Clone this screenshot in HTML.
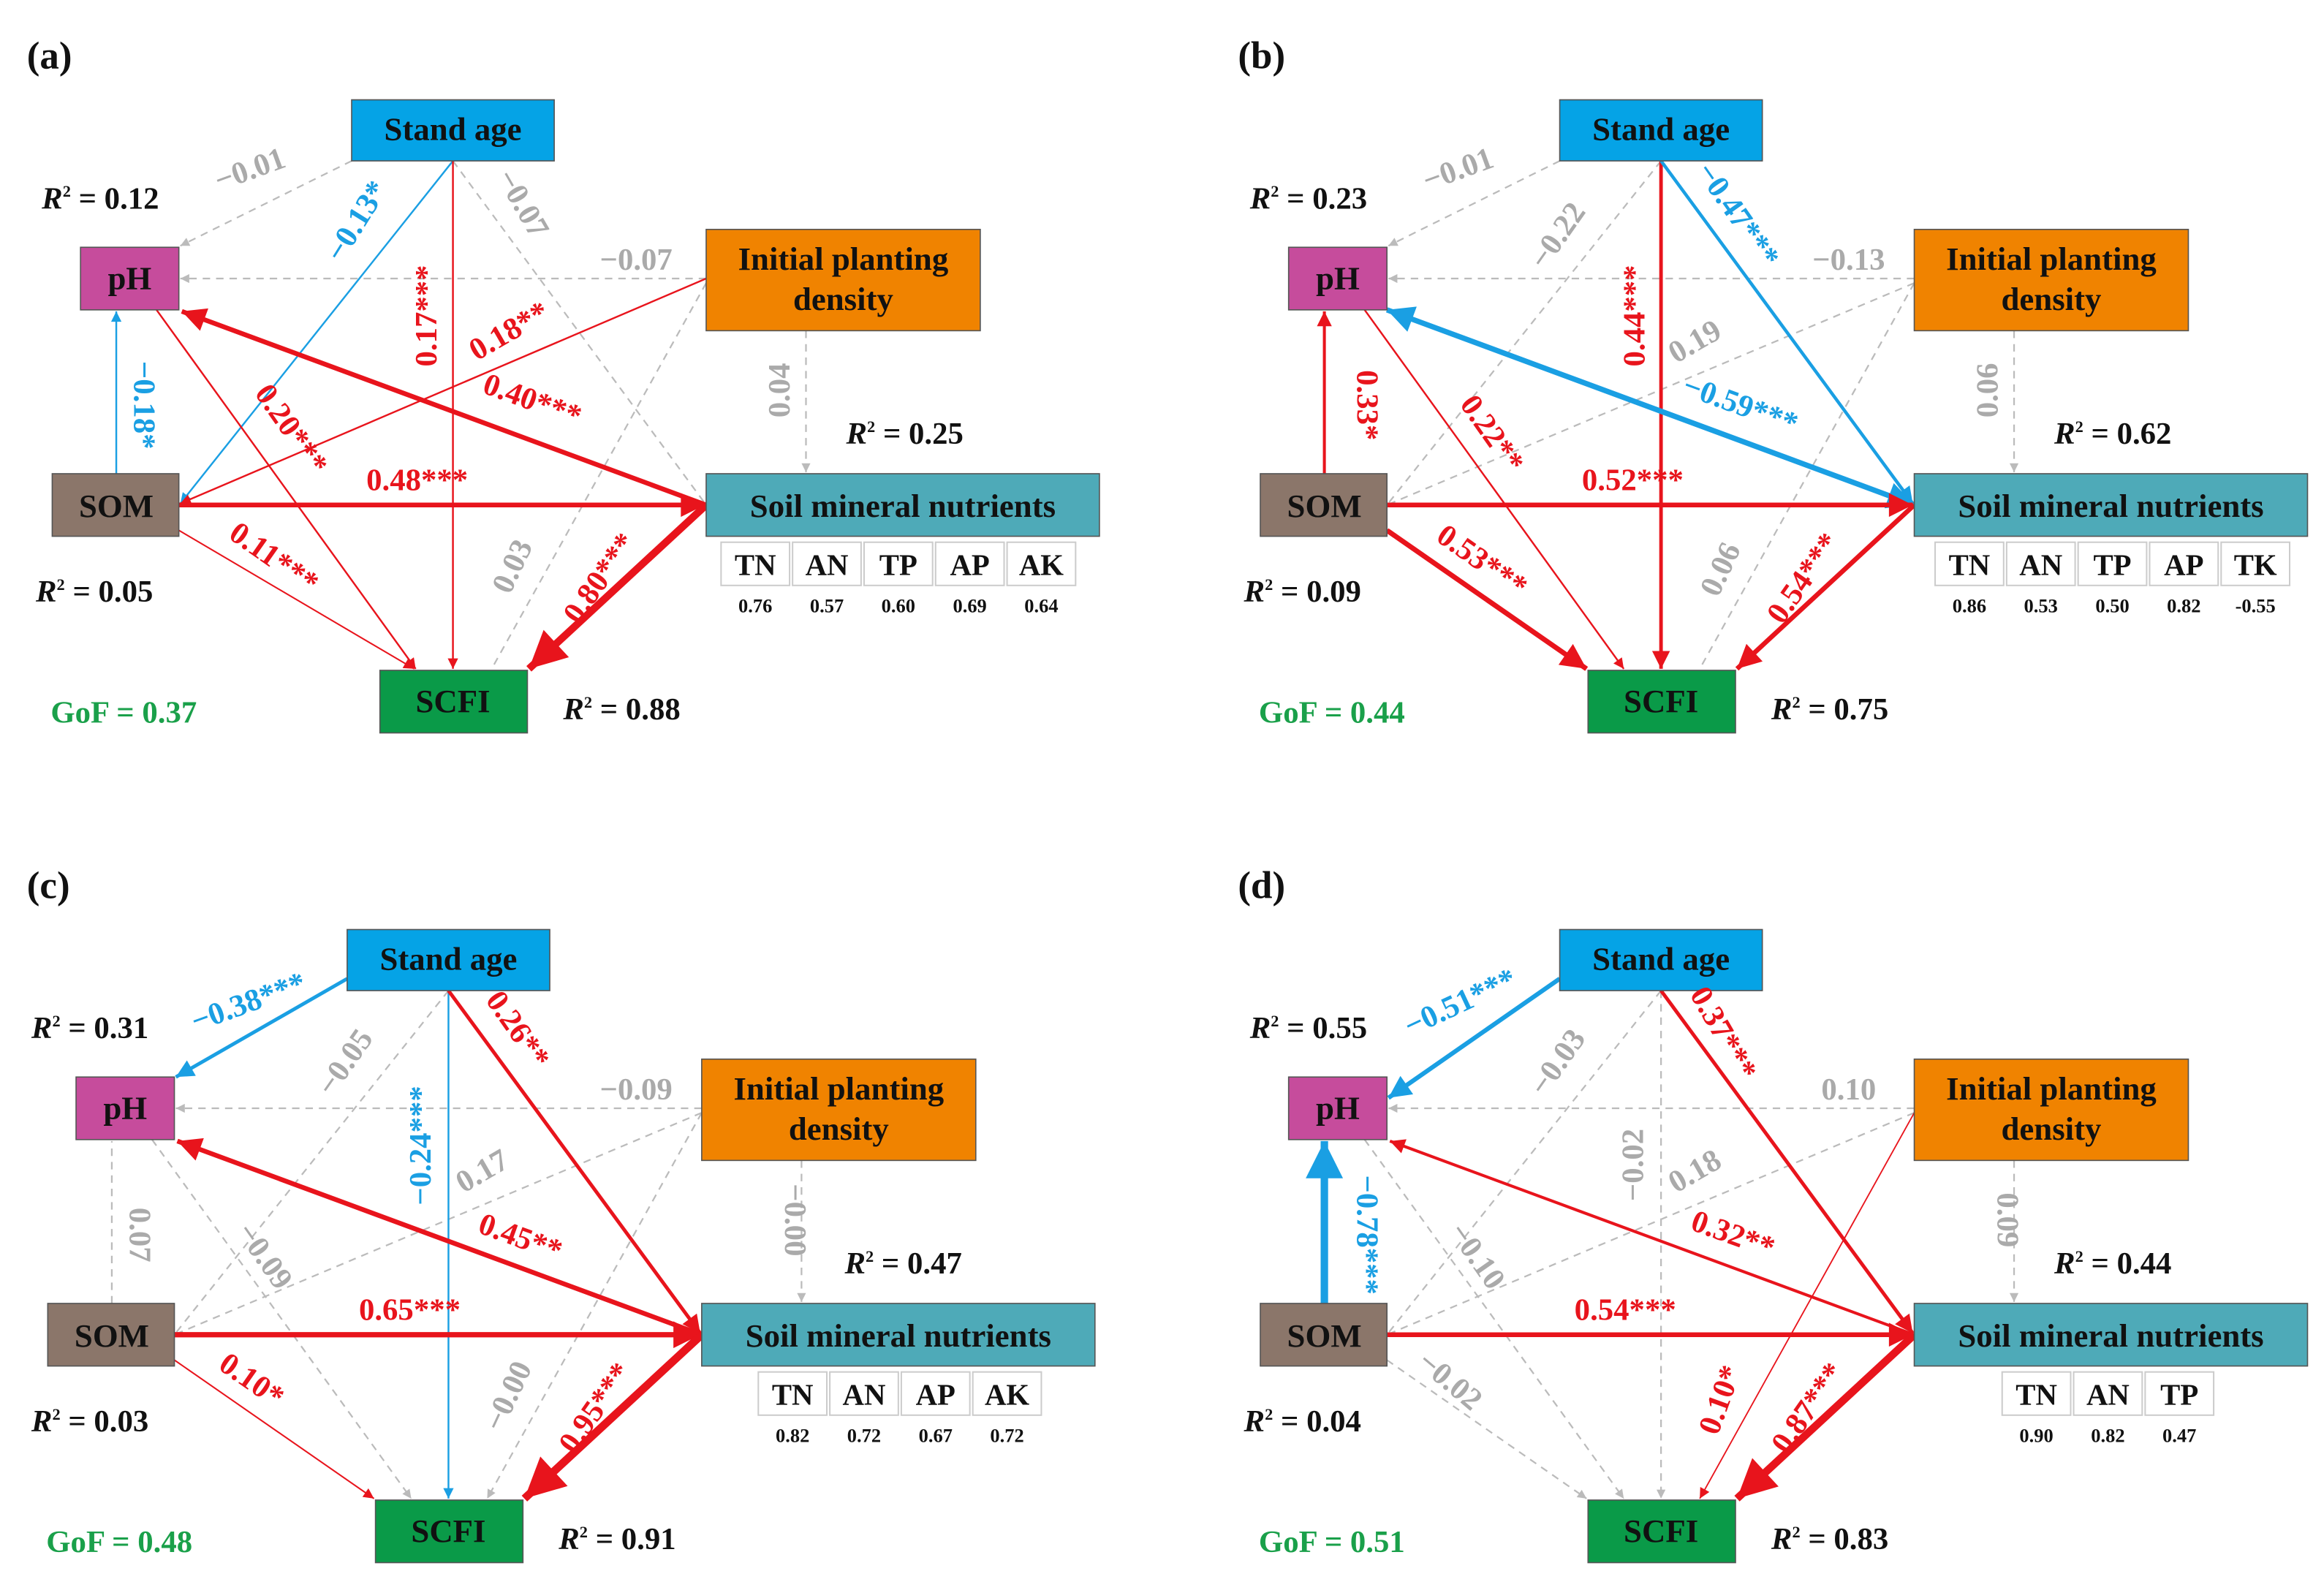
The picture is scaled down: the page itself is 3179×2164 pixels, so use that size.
<!DOCTYPE html>
<html><head><meta charset="utf-8"><style>
html,body{margin:0;padding:0;background:#fff}
svg{display:block}
text{font-family:"Liberation Serif",serif;font-weight:bold}
.bx{font-size:22px;fill:#111;text-anchor:middle}
.lr{fill:#e8141c;font-size:21px;text-anchor:middle}
.lb{fill:#1a9fe3;font-size:21px;text-anchor:middle}
.lg{fill:#aaa;font-size:21px;text-anchor:middle}
.r2{font-size:21px;fill:#111}
.gof{font-size:21px;fill:#1aa04a}
.sb{font-size:20px;fill:#111;text-anchor:middle}
.sv{font-size:13px;fill:#111;text-anchor:middle}
.pl{font-size:26px;fill:#111}
.r{stroke:#e8141c;fill:none}
.b{stroke:#1a9fe3;fill:none}
.g{stroke:#bbb;stroke-width:1.1;stroke-dasharray:5,4;fill:none}
</style></head><body>
<svg width="3179" height="2164" viewBox="0 0 1560 1062" xmlns="http://www.w3.org/2000/svg">
<defs>
<marker id="mr" viewBox="0 0 10 10" refX="10" refY="5" markerWidth="6" markerHeight="5" orient="auto-start-reverse" markerUnits="strokeWidth"><path d="M0,0L10,5L0,10z" fill="#e8141c"/></marker>
<marker id="mb" viewBox="0 0 10 10" refX="10" refY="5" markerWidth="6" markerHeight="5" orient="auto-start-reverse" markerUnits="strokeWidth"><path d="M0,0L10,5L0,10z" fill="#1a9fe3"/></marker>
<marker id="mg" viewBox="0 0 10 10" refX="10" refY="5" markerWidth="7" markerHeight="6" orient="auto" markerUnits="userSpaceOnUse"><path d="M0,0L10,5L0,10z" fill="#bbb"/></marker>
<marker id="mrs" viewBox="0 0 10 10" refX="10" refY="5" markerWidth="8" markerHeight="7" orient="auto" markerUnits="userSpaceOnUse"><path d="M0,0L10,5L0,10z" fill="#e8141c"/></marker>
<marker id="mbs" viewBox="0 0 10 10" refX="10" refY="5" markerWidth="8" markerHeight="7" orient="auto" markerUnits="userSpaceOnUse"><path d="M0,0L10,5L0,10z" fill="#1a9fe3"/></marker>
<g id="nodes">
<rect x="236" y="67" width="136" height="41" fill="#05a3e6" stroke="#555" stroke-width="0.8"/>
<text class="bx" x="304" y="94">Stand age</text>
<rect x="54" y="166" width="66" height="42" fill="#c64c9c" stroke="#555" stroke-width="0.8"/>
<text class="bx" x="87" y="194">pH</text>
<rect x="474" y="154" width="184" height="68" fill="#f08300" stroke="#555" stroke-width="0.8"/>
<text class="bx" x="566" y="181">Initial planting</text>
<text class="bx" x="566" y="208">density</text>
<rect x="35" y="318" width="85" height="42" fill="#8b766a" stroke="#555" stroke-width="0.8"/>
<text class="bx" x="78" y="347">SOM</text>
<rect x="474" y="318" width="264" height="42" fill="#4eaab8" stroke="#555" stroke-width="0.8"/>
<text class="bx" x="606" y="347">Soil mineral nutrients</text>
<rect x="255" y="450" width="99" height="42" fill="#0a9a48" stroke="#555" stroke-width="0.8"/>
<text class="bx" x="304" y="478">SCFI</text>
</g>
</defs>

<!-- Panel A -->
<g>
<text class="pl" x="18" y="46">(a)</text>
<line class="g" x1="236" y1="108" x2="121" y2="165" marker-end="url(#mg)"/>
<line class="g" x1="304" y1="108" x2="474" y2="339"/>
<line class="g" x1="474" y1="187" x2="121" y2="187" marker-end="url(#mg)"/>
<line class="g" x1="541" y1="222" x2="541" y2="317" marker-end="url(#mg)"/>
<line class="g" x1="474" y1="190" x2="330" y2="449"/>
<line class="b" stroke-width="1.2" x1="304" y1="108" x2="121" y2="338" marker-end="url(#mbs)"/>
<line class="r" stroke-width="1.2" x1="304" y1="108" x2="304" y2="449" marker-end="url(#mrs)"/>
<line class="r" stroke-width="1.2" x1="474" y1="187" x2="121" y2="338" marker-end="url(#mrs)"/>
<line class="r" stroke-width="3.2" x1="474" y1="339" x2="122" y2="209" marker-end="url(#mr)"/>
<line class="b" stroke-width="1.2" x1="78" y1="318" x2="78" y2="209" marker-end="url(#mbs)"/>
<line class="r" stroke-width="1.2" x1="105" y1="208" x2="279" y2="449" marker-end="url(#mrs)"/>
<line class="r" stroke-width="3.2" x1="120" y1="339" x2="473" y2="339" marker-end="url(#mr)"/>
<line class="r" stroke-width="1" x1="120" y1="356" x2="278" y2="449" marker-end="url(#mrs)"/>
<line class="r" stroke-width="5" x1="474" y1="339" x2="355" y2="449" marker-end="url(#mr)"/>
<use href="#nodes"/>
<text class="lg" transform="translate(170,120) rotate(-20)">−0.01</text>
<text class="lb" transform="translate(245,152) rotate(-58)">−0.13*</text>
<text class="lr" transform="translate(293,212) rotate(-90)">0.17***</text>
<text class="lg" transform="translate(345,140) rotate(60)">−0.07</text>
<text class="lg" x="427" y="181">−0.07</text>
<text class="lr" transform="translate(345,228) rotate(-30)">0.18**</text>
<text class="lg" transform="translate(530,262) rotate(-90)">0.04</text>
<text class="lg" transform="translate(350,383) rotate(-65)">0.03</text>
<text class="lr" transform="translate(355,275) rotate(20)">0.40***</text>
<text class="lb" transform="translate(90,272) rotate(90)">−0.18*</text>
<text class="lr" transform="translate(190,292) rotate(55)">0.20***</text>
<text class="lr" x="280" y="329">0.48***</text>
<text class="lr" transform="translate(180,380) rotate(35)">0.11***</text>
<text class="lr" transform="translate(408,392) rotate(-55)">0.80***</text>
<text class="r2" x="28" y="140"><tspan font-style="italic">R</tspan><tspan dy="-8" font-size="11">2</tspan><tspan dy="8"> = 0.12</tspan></text>
<text class="r2" x="568" y="298"><tspan font-style="italic">R</tspan><tspan dy="-8" font-size="11">2</tspan><tspan dy="8"> = 0.25</tspan></text>
<text class="r2" x="24" y="404"><tspan font-style="italic">R</tspan><tspan dy="-8" font-size="11">2</tspan><tspan dy="8"> = 0.05</tspan></text>
<text class="r2" x="378" y="483"><tspan font-style="italic">R</tspan><tspan dy="-8" font-size="11">2</tspan><tspan dy="8"> = 0.88</tspan></text>
<text class="gof" x="34" y="485">GoF = 0.37</text>
<g fill="#fff" stroke="#ccc" stroke-width="1">
<rect x="484" y="364" width="46" height="29"/><rect x="532" y="364" width="46" height="29"/><rect x="580" y="364" width="46" height="29"/><rect x="628" y="364" width="46" height="29"/><rect x="676" y="364" width="46" height="29"/></g>
<text class="sb" x="507" y="386">TN</text><text class="sb" x="555" y="386">AN</text><text class="sb" x="603" y="386">TP</text><text class="sb" x="651" y="386">AP</text><text class="sb" x="699" y="386">AK</text>
<text class="sv" x="507" y="411">0.76</text><text class="sv" x="555" y="411">0.57</text><text class="sv" x="603" y="411">0.60</text><text class="sv" x="651" y="411">0.69</text><text class="sv" x="699" y="411">0.64</text>
</g>

<!-- Panel B -->
<g transform="translate(811,0)">
<text class="pl" x="20" y="46">(b)</text>
<line class="g" x1="236" y1="108" x2="121" y2="165" marker-end="url(#mg)"/>
<line class="g" x1="304" y1="108" x2="120" y2="339"/>
<line class="g" x1="474" y1="187" x2="121" y2="187" marker-end="url(#mg)"/>
<line class="g" x1="541" y1="222" x2="541" y2="317" marker-end="url(#mg)"/>
<line class="g" x1="474" y1="190" x2="330" y2="449"/>
<line class="g" x1="474" y1="190" x2="120" y2="339"/>
<line class="r" stroke-width="2.4" x1="304" y1="108" x2="304" y2="449" marker-end="url(#mr)"/>
<line class="b" stroke-width="2.2" x1="304" y1="108" x2="473" y2="338" marker-end="url(#mb)"/>
<line class="b" stroke-width="3.6" x1="120" y1="208" x2="474" y2="339" marker-start="url(#mb)" marker-end="url(#mb)"/>
<line class="r" stroke-width="2" x1="78" y1="318" x2="78" y2="209" marker-end="url(#mr)"/>
<line class="r" stroke-width="1.2" x1="105" y1="208" x2="279" y2="449" marker-end="url(#mrs)"/>
<line class="r" stroke-width="3.2" x1="120" y1="339" x2="473" y2="339" marker-end="url(#mr)"/>
<line class="r" stroke-width="3.4" x1="120" y1="356" x2="254" y2="449" marker-end="url(#mr)"/>
<line class="r" stroke-width="3.2" x1="474" y1="339" x2="355" y2="449" marker-end="url(#mr)"/>
<use href="#nodes"/>
<text class="lg" transform="translate(170,120) rotate(-20)">−0.01</text>
<text class="lg" transform="translate(240,162) rotate(-55)">−0.22</text>
<text class="lr" transform="translate(293,212) rotate(-90)">0.44***</text>
<text class="lb" transform="translate(350,148) rotate(55)">−0.47***</text>
<text class="lg" x="430" y="181">−0.13</text>
<text class="lg" transform="translate(330,235) rotate(-30)">0.19</text>
<text class="lg" transform="translate(530,262) rotate(-90)">0.06</text>
<text class="lg" transform="translate(350,385) rotate(-65)">0.06</text>
<text class="lb" transform="translate(355,278) rotate(20)">−0.59***</text>
<text class="lr" transform="translate(100,272) rotate(90)">0.33*</text>
<text class="lr" transform="translate(185,295) rotate(55)">0.22**</text>
<text class="lr" x="285" y="329">0.52***</text>
<text class="lr" transform="translate(180,382) rotate(35)">0.53***</text>
<text class="lr" transform="translate(405,392) rotate(-55)">0.54***</text>
<text class="r2" x="28" y="140"><tspan font-style="italic">R</tspan><tspan dy="-8" font-size="11">2</tspan><tspan dy="8"> = 0.23</tspan></text>
<text class="r2" x="568" y="298"><tspan font-style="italic">R</tspan><tspan dy="-8" font-size="11">2</tspan><tspan dy="8"> = 0.62</tspan></text>
<text class="r2" x="24" y="404"><tspan font-style="italic">R</tspan><tspan dy="-8" font-size="11">2</tspan><tspan dy="8"> = 0.09</tspan></text>
<text class="r2" x="378" y="483"><tspan font-style="italic">R</tspan><tspan dy="-8" font-size="11">2</tspan><tspan dy="8"> = 0.75</tspan></text>
<text class="gof" x="34" y="485">GoF = 0.44</text>
<g fill="#fff" stroke="#ccc" stroke-width="1">
<rect x="488" y="364" width="46" height="29"/><rect x="536" y="364" width="46" height="29"/><rect x="584" y="364" width="46" height="29"/><rect x="632" y="364" width="46" height="29"/><rect x="680" y="364" width="46" height="29"/></g>
<text class="sb" x="511" y="386">TN</text><text class="sb" x="559" y="386">AN</text><text class="sb" x="607" y="386">TP</text><text class="sb" x="655" y="386">AP</text><text class="sb" x="703" y="386">TK</text>
<text class="sv" x="511" y="411">0.86</text><text class="sv" x="559" y="411">0.53</text><text class="sv" x="607" y="411">0.50</text><text class="sv" x="655" y="411">0.82</text><text class="sv" x="703" y="411">-0.55</text>
</g>

<!-- Panel C -->
<g transform="translate(-3,557)">
<text class="pl" x="21" y="46">(c)</text>
<line class="g" x1="304" y1="108" x2="120" y2="339"/>
<line class="g" x1="474" y1="187" x2="121" y2="187" marker-end="url(#mg)"/>
<line class="g" x1="541" y1="222" x2="541" y2="317" marker-end="url(#mg)"/>
<line class="g" x1="474" y1="190" x2="330" y2="449" marker-end="url(#mg)"/>
<line class="g" x1="474" y1="190" x2="120" y2="339"/>
<line class="g" x1="78" y1="318" x2="78" y2="209"/>
<line class="g" x1="105" y1="208" x2="279" y2="449" marker-end="url(#mg)"/>
<line class="b" stroke-width="2.4" x1="236" y1="100" x2="121" y2="166" marker-end="url(#mb)"/>
<line class="b" stroke-width="1.2" x1="304" y1="108" x2="304" y2="449" marker-end="url(#mbs)"/>
<line class="r" stroke-width="2.4" x1="304" y1="108" x2="473" y2="338" marker-end="url(#mr)"/>
<line class="r" stroke-width="3.2" x1="474" y1="339" x2="122" y2="209" marker-end="url(#mr)"/>
<line class="r" stroke-width="3.6" x1="120" y1="339" x2="473" y2="339" marker-end="url(#mr)"/>
<line class="r" stroke-width="1" x1="120" y1="356" x2="254" y2="449" marker-end="url(#mrs)"/>
<line class="r" stroke-width="5.4" x1="474" y1="339" x2="355" y2="449" marker-end="url(#mr)"/>
<use href="#nodes"/>
<text class="lb" transform="translate(172,122) rotate(-20)">−0.38***</text>
<text class="lg" transform="translate(240,160) rotate(-55)">−0.05</text>
<text class="lb" transform="translate(292,212) rotate(-90)">−0.24***</text>
<text class="lr" transform="translate(345,138) rotate(55)">0.26**</text>
<text class="lg" x="430" y="181">−0.09</text>
<text class="lg" transform="translate(330,235) rotate(-30)">0.17</text>
<text class="lg" transform="translate(530,262) rotate(90)">−0.00</text>
<text class="lg" transform="translate(350,383) rotate(-65)">−0.00</text>
<text class="lr" transform="translate(350,280) rotate(20)">0.45**</text>
<text class="lg" transform="translate(90,272) rotate(90)">0.07</text>
<text class="lg" transform="translate(175,290) rotate(55)">−0.09</text>
<text class="lr" x="278" y="329">0.65***</text>
<text class="lr" transform="translate(168,375) rotate(35)">0.10*</text>
<text class="lr" transform="translate(408,392) rotate(-55)">0.95***</text>
<text class="r2" x="24" y="140"><tspan font-style="italic">R</tspan><tspan dy="-8" font-size="11">2</tspan><tspan dy="8"> = 0.31</tspan></text>
<text class="r2" x="570" y="298"><tspan font-style="italic">R</tspan><tspan dy="-8" font-size="11">2</tspan><tspan dy="8"> = 0.47</tspan></text>
<text class="r2" x="24" y="404"><tspan font-style="italic">R</tspan><tspan dy="-8" font-size="11">2</tspan><tspan dy="8"> = 0.03</tspan></text>
<text class="r2" x="378" y="483"><tspan font-style="italic">R</tspan><tspan dy="-8" font-size="11">2</tspan><tspan dy="8"> = 0.91</tspan></text>
<text class="gof" x="34" y="485">GoF = 0.48</text>
<g fill="#fff" stroke="#ccc" stroke-width="1">
<rect x="512" y="364" width="46" height="29"/><rect x="560" y="364" width="46" height="29"/><rect x="608" y="364" width="46" height="29"/><rect x="656" y="364" width="46" height="29"/></g>
<text class="sb" x="535" y="386">TN</text><text class="sb" x="583" y="386">AN</text><text class="sb" x="631" y="386">AP</text><text class="sb" x="679" y="386">AK</text>
<text class="sv" x="535" y="411">0.82</text><text class="sv" x="583" y="411">0.72</text><text class="sv" x="631" y="411">0.67</text><text class="sv" x="679" y="411">0.72</text>
</g>

<!-- Panel D -->
<g transform="translate(811,557)">
<text class="pl" x="20" y="46">(d)</text>
<line class="g" x1="304" y1="108" x2="120" y2="339"/>
<line class="g" x1="304" y1="108" x2="304" y2="449" marker-end="url(#mg)"/>
<line class="g" x1="474" y1="187" x2="121" y2="187" marker-end="url(#mg)"/>
<line class="g" x1="541" y1="222" x2="541" y2="317" marker-end="url(#mg)"/>
<line class="g" x1="474" y1="190" x2="120" y2="339"/>
<line class="g" x1="105" y1="208" x2="279" y2="449" marker-end="url(#mg)"/>
<line class="g" x1="120" y1="356" x2="254" y2="449" marker-end="url(#mg)"/>
<line class="b" stroke-width="3" x1="236" y1="100" x2="121" y2="180" marker-end="url(#mb)"/>
<line class="b" stroke-width="5" x1="78" y1="318" x2="78" y2="209" marker-end="url(#mb)"/>
<line class="r" stroke-width="2.4" x1="304" y1="108" x2="473" y2="338" marker-end="url(#mr)"/>
<line class="r" stroke-width="2" x1="474" y1="339" x2="122" y2="209" marker-end="url(#mr)"/>
<line class="r" stroke-width="3.2" x1="120" y1="339" x2="473" y2="339" marker-end="url(#mr)"/>
<line class="r" stroke-width="0.9" x1="474" y1="190" x2="330" y2="449" marker-end="url(#mrs)"/>
<line class="r" stroke-width="5.2" x1="474" y1="339" x2="355" y2="449" marker-end="url(#mr)"/>
<use href="#nodes"/>
<text class="lb" transform="translate(172,122) rotate(-25)">−0.51***</text>
<text class="lg" transform="translate(240,160) rotate(-55)">−0.03</text>
<text class="lg" transform="translate(292,225) rotate(-90)">−0.02</text>
<text class="lr" transform="translate(340,140) rotate(60)">0.37***</text>
<text class="lg" x="430" y="181">0.10</text>
<text class="lg" transform="translate(330,235) rotate(-30)">0.18</text>
<text class="lg" transform="translate(530,262) rotate(90)">0.09</text>
<text class="lr" transform="translate(350,385) rotate(-70)">0.10*</text>
<text class="lr" transform="translate(350,278) rotate(20)">0.32**</text>
<text class="lb" transform="translate(100,272) rotate(90)">−0.78***</text>
<text class="lg" transform="translate(175,290) rotate(55)">−0.10</text>
<text class="lr" x="280" y="329">0.54***</text>
<text class="lg" transform="translate(158,375) rotate(40)">−0.02</text>
<text class="lr" transform="translate(408,392) rotate(-55)">0.87***</text>
<text class="r2" x="28" y="140"><tspan font-style="italic">R</tspan><tspan dy="-8" font-size="11">2</tspan><tspan dy="8"> = 0.55</tspan></text>
<text class="r2" x="568" y="298"><tspan font-style="italic">R</tspan><tspan dy="-8" font-size="11">2</tspan><tspan dy="8"> = 0.44</tspan></text>
<text class="r2" x="24" y="404"><tspan font-style="italic">R</tspan><tspan dy="-8" font-size="11">2</tspan><tspan dy="8"> = 0.04</tspan></text>
<text class="r2" x="378" y="483"><tspan font-style="italic">R</tspan><tspan dy="-8" font-size="11">2</tspan><tspan dy="8"> = 0.83</tspan></text>
<text class="gof" x="34" y="485">GoF = 0.51</text>
<g fill="#fff" stroke="#ccc" stroke-width="1">
<rect x="533" y="364" width="46" height="29"/><rect x="581" y="364" width="46" height="29"/><rect x="629" y="364" width="46" height="29"/></g>
<text class="sb" x="556" y="386">TN</text><text class="sb" x="604" y="386">AN</text><text class="sb" x="652" y="386">TP</text>
<text class="sv" x="556" y="411">0.90</text><text class="sv" x="604" y="411">0.82</text><text class="sv" x="652" y="411">0.47</text>
</g>
</svg>
</body></html>
